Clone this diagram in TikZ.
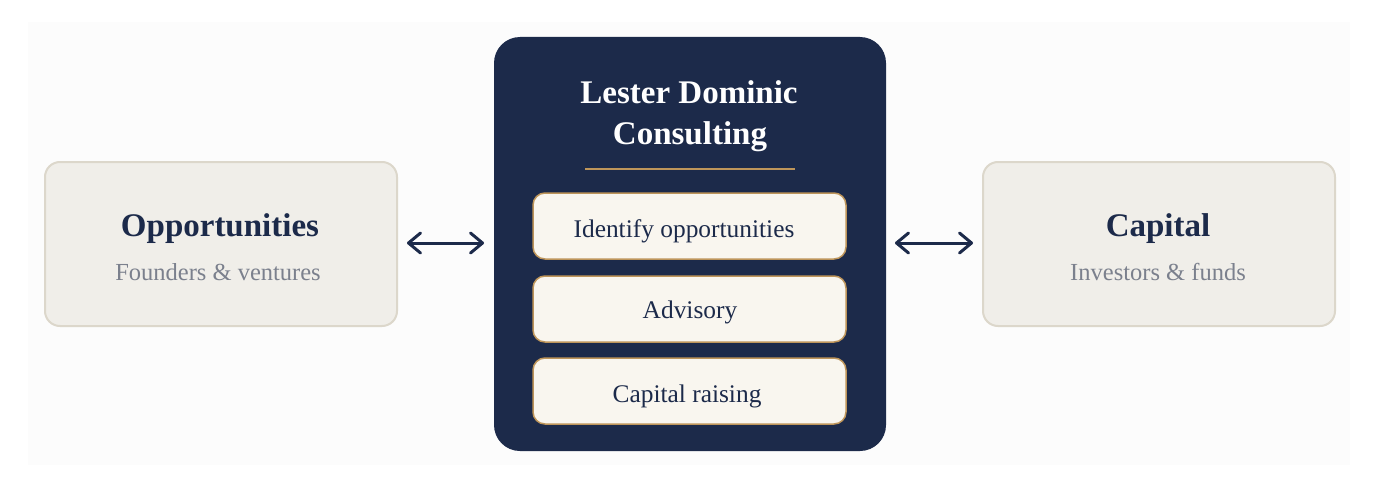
\documentclass[tikz,border=0pt]{standalone}
\usepackage{fontspec}
\setmainfont{Liberation Serif}
\usetikzlibrary{arrows.meta}
\definecolor{navy}{HTML}{1C2A4A}
\definecolor{sidefill}{HTML}{F0EEE9}
\definecolor{sideline}{HTML}{DCD7CB}
\definecolor{gold}{HTML}{BE955A}
\definecolor{cream}{HTML}{F9F6EF}
\definecolor{subgray}{HTML}{7B808D}
\definecolor{bgpale}{HTML}{FCFCFC}
\tikzset{
  x=1pt, y=-1pt,
  sidebox/.style={draw=sideline, line width=2pt, fill=sidefill, rounded corners=15pt},
  corebox/.style={fill=navy, rounded corners=26pt},
  svcbox/.style={draw=gold, line width=1.5pt, fill=cream, rounded corners=12pt},
  bigtitle/.style={font=\fontsize{33}{39}\selectfont\bfseries, text=navy, anchor=base, inner sep=0pt},
  subtitle/.style={font=\fontsize{24.5}{29}\selectfont, text=subgray, anchor=base, inner sep=0pt},
  svctext/.style={font=\fontsize{25.4}{30}\selectfont, text=navy, anchor=base, inner sep=0pt},
  link/.style={draw=navy, line width=3pt, line cap=round, {Straight Barb[length=12pt,width=20pt,line cap=round,line join=round]}-{Straight Barb[length=12pt,width=20pt,line cap=round,line join=round]}}
}
\begin{document}
\begin{tikzpicture}
\useasboundingbox (0,0) rectangle (1375,487);
\fill[white] (0,0) rectangle (1375,487);
\fill[bgpale] (28,22) rectangle (1350,465);

% side boxes
\path[sidebox] (45,162) rectangle (397,326);
\path[sidebox] (983,162) rectangle (1335,326);
\node[bigtitle] (opp) at (220,236) {Opportunities};
\node[subtitle] (oppsub) at (218,280) {Founders \& ventures};
\node[bigtitle] (cap) at (1158,236) {Capital};
\node[subtitle] (capsub) at (1158,280) {Investors \& funds};

% core box
\path[corebox] (494,37) rectangle (886,451);
\node[bigtitle, text=white] (t1) at (689,103) {Lester Dominic};
\node[bigtitle, text=white] (t2) at (690,144) {Consulting};
\coordinate (gl) at (585,169);
\coordinate (gr) at (795,169);
\draw[gold, line width=2pt] (gl) -- (gr);

% service boxes
\path[svcbox] (533,193) rectangle (846,259);
\path[svcbox] (533,276) rectangle (846,342);
\path[svcbox] (533,358) rectangle (846,424);
\node[svctext] (s1) at (684,237) {Identify opportunities};
\node[svctext] (s2) at (690,318) {Advisory};
\node[svctext] (s3) at (687,402) {Capital raising};

% arrows
\coordinate (a1) at (407,243);
\coordinate (a2) at (484,243);
\coordinate (b1) at (895,243);
\coordinate (b2) at (973,243);
\draw[link] (a1) -- (a2);
\draw[link] (b1) -- (b2);
\end{tikzpicture}
\end{document}
